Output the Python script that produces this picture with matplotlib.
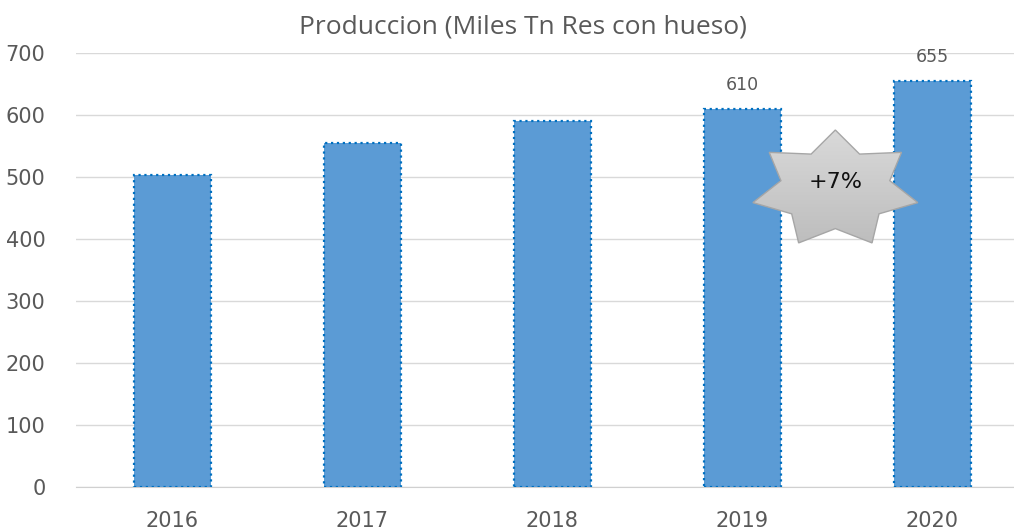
import numpy as np
import matplotlib
matplotlib.use("Agg")
from matplotlib import pyplot as plt
from matplotlib.patches import Polygon
from matplotlib.colors import LinearSegmentedColormap

years = ["2016", "2017", "2018", "2019", "2020"]
produccion = [503, 555, 590, 610, 655]
etiquetas = {3: "610", 4: "655"}  # only the last two bars are labelled
yticks = [0, 100, 200, 300, 400, 500, 600, 700]
crecimiento = "+7%"

fig = plt.figure(figsize=(10.14, 5.29), dpi=100)
ax = fig.add_axes([0.075, 0.0794, 0.925, 0.8204])

x = np.arange(len(years))
ax.bar(x, produccion, width=0.405, color="#5B9BD5", edgecolor="#0070C0",
       linewidth=1.6, linestyle=":", zorder=3)

for i, txt in etiquetas.items():
    ax.annotate(txt, (x[i], produccion[i]), xytext=(0, 11), textcoords="offset points",
                ha="center", va="bottom", fontsize=12.5, color="#595959",
                family="DejaVu Sans", annotation_clip=False)

ax.set_yticks(yticks)
ax.set_xticks(x)
ax.set_xticklabels(years)
ax.tick_params(axis="both", length=0, labelsize=15, labelcolor="#595959")
ax.tick_params(axis="y", pad=22)
ax.tick_params(axis="x", pad=17)
for lab in ax.get_xticklabels() + ax.get_yticklabels():
    lab.set_family("DejaVu Sans")
ax.grid(axis="y", color="#d9d9d9", linewidth=1, zorder=0)
for s in ["left", "right", "top"]:
    ax.spines[s].set_visible(False)
ax.spines["bottom"].set_color("#d0d0d0")
ax.set_axisbelow(True)

fig.suptitle("Produccion (Miles Tn Res con hueso)", x=0.516, y=0.972,
             fontsize=19, color="#595959", family="Open Sans")

# seven-pointed star between 2019 and 2020
cx, cy = 3.49, 480
rx, ry = 0.445, 95.8
ang_out = np.pi / 2 + np.arange(7) * 2 * np.pi / 7
ang_in = ang_out + np.pi / 7
pts = []
for a, b in zip(ang_out, ang_in):
    pts.append((cx + rx * np.cos(a), cy + ry * np.sin(a)))
    pts.append((cx + 0.66 * rx * np.cos(b), cy + 0.66 * ry * np.sin(b)))
star = Polygon(pts, closed=True, facecolor="none", edgecolor="#a6a6a6",
               linewidth=1, zorder=6)
ax.add_patch(star)
grad = np.linspace(0, 1, 100).reshape(-1, 1)
cmap = LinearSegmentedColormap.from_list("g", ["#d9d9d9", "#bcbcbc"])
im = ax.imshow(grad, cmap=cmap, aspect="auto", zorder=5, origin="upper",
               extent=(cx - rx, cx + rx, cy - ry, cy + ry))
im.set_clip_path(star)
ax.set_xlim(-0.505, 4.43)
ax.set_ylim(0, 700)
ax.text(cx, cy + 12, crecimiento, ha="center", va="center", fontsize=16,
        color="#111111", family="DejaVu Sans", zorder=7)

fig.savefig("out.png", dpi=100)
